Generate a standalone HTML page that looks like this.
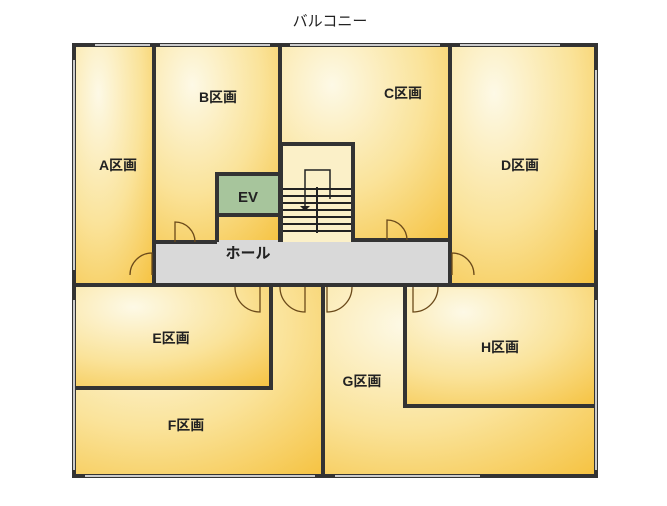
<!DOCTYPE html>
<html><head><meta charset="utf-8"><style>
body{margin:0;background:#fff;width:667px;height:501px;overflow:hidden}
text{font-family:"Liberation Sans","Noto Sans CJK JP",sans-serif;font-weight:bold;fill:#222}
</style></head><body>
<svg width="667" height="501" viewBox="0 0 667 501" xmlns="http://www.w3.org/2000/svg">
<defs>
<radialGradient id="y" cx="0.3" cy="0.2" r="1.1">
<stop offset="0" stop-color="#fdf9e6"/><stop offset="0.5" stop-color="#fae39a"/><stop offset="1" stop-color="#f5c03a"/>
</radialGradient>
</defs>
<text x="330" y="26" font-size="15" text-anchor="middle" style="font-weight:normal">バルコニー</text>
<rect x="75" y="46" width="78" height="238" fill="url(#y)"/>
<rect x="155" y="46" width="125" height="196" fill="url(#y)"/>
<rect x="282" y="46" width="167" height="196" fill="url(#y)"/>
<rect x="451" y="46" width="144" height="238" fill="url(#y)"/>
<rect x="75" y="287" width="196" height="101" fill="url(#y)"/>
<rect x="75" y="287" width="248" height="189" fill="url(#y)"/>
<rect x="75" y="287" width="196" height="101" fill="url(#y)"/>
<rect x="325" y="287" width="270" height="189" fill="url(#y)"/>
<rect x="407" y="289" width="188" height="117" fill="url(#y)"/>
<rect x="155" y="240" width="294" height="44" fill="#d9d9d9"/>
<rect x="282" y="143" width="71" height="99" fill="#fbf0c8"/>
<rect x="217" y="174" width="62" height="42" fill="#a7c59c"/>
<g stroke="#333" stroke-width="4" fill="none">
<rect x="74" y="45" width="522" height="431"/>
<line x1="154" y1="45" x2="154" y2="285"/>
<line x1="280" y1="45" x2="280" y2="242"/>
<line x1="450" y1="45" x2="450" y2="285"/>
<line x1="154" y1="242" x2="217" y2="242"/>
<polyline points="217,242 217,174 280,174"/>
<line x1="217" y1="215" x2="280" y2="215"/>
<polyline points="281,242 281,144 353,144 353,240 450,240"/>
<line x1="74" y1="285" x2="596" y2="285"/>
<polyline points="271,285 271,388 74,388"/>
<line x1="323" y1="285" x2="323" y2="476"/>
<polyline points="405,285 405,406 596,406"/>
</g>
<g stroke="#222" stroke-width="2" fill="none">
<line x1="283" y1="189" x2="351" y2="189"/>
<line x1="283" y1="196" x2="351" y2="196"/>
<line x1="283" y1="203" x2="351" y2="203"/>
<line x1="283" y1="210" x2="351" y2="210"/>
<line x1="283" y1="217" x2="351" y2="217"/>
<line x1="283" y1="224" x2="351" y2="224"/>
<line x1="283" y1="231" x2="351" y2="231"/>
<line x1="317" y1="187" x2="317" y2="233"/>
<polyline points="305,208 305,170 330,170 330,199" stroke-width="1.5"/>
</g>
<polygon points="300,206 310,206 305,211" fill="#222"/>
<g stroke="#fff" stroke-width="1.5">
<line x1="95" y1="45" x2="150" y2="45"/><line x1="160" y1="45" x2="270" y2="45"/><line x1="290" y1="45" x2="440" y2="45"/><line x1="460" y1="45" x2="560" y2="45"/>
<line x1="74" y1="60" x2="74" y2="270"/><line x1="596" y1="70" x2="596" y2="230"/><line x1="596" y1="300" x2="596" y2="470"/><line x1="74" y1="300" x2="74" y2="470"/>
<line x1="85" y1="476" x2="315" y2="476"/><line x1="335" y1="476" x2="480" y2="476"/>
</g>
<g stroke="#6b4a1a" stroke-width="1.3" fill="none">
<path d="M175,242 L175,222 A20,20 0 0 1 195,242"/>
<path d="M152,275 L152,253 A22,22 0 0 0 130,275"/>
<path d="M387,240 L387,220 A20,20 0 0 1 407,240"/>
<path d="M452,275 L452,253 A22,22 0 0 1 474,275"/>
<path d="M260,287 L260,312 A25,25 0 0 1 235,287"/>
<path d="M305,287 L305,312 A25,25 0 0 1 280,287"/>
<path d="M327,287 L327,312 A25,25 0 0 0 352,287"/>
<path d="M413,287 L413,312 A25,25 0 0 0 438,287"/>
</g>
<g font-size="14">
<text x="118" y="170" text-anchor="middle">A区画</text>
<text x="218" y="102" text-anchor="middle">B区画</text>
<text x="403" y="98" text-anchor="middle">C区画</text>
<text x="520" y="170" text-anchor="middle">D区画</text>
<text x="248" y="202" text-anchor="middle" font-size="15">EV</text>
<text x="248" y="258" text-anchor="middle" font-size="15">ホール</text>
<text x="171" y="343" text-anchor="middle">E区画</text>
<text x="186" y="430" text-anchor="middle">F区画</text>
<text x="362" y="386" text-anchor="middle">G区画</text>
<text x="500" y="352" text-anchor="middle">H区画</text>
</g>
</svg>
</body></html>
